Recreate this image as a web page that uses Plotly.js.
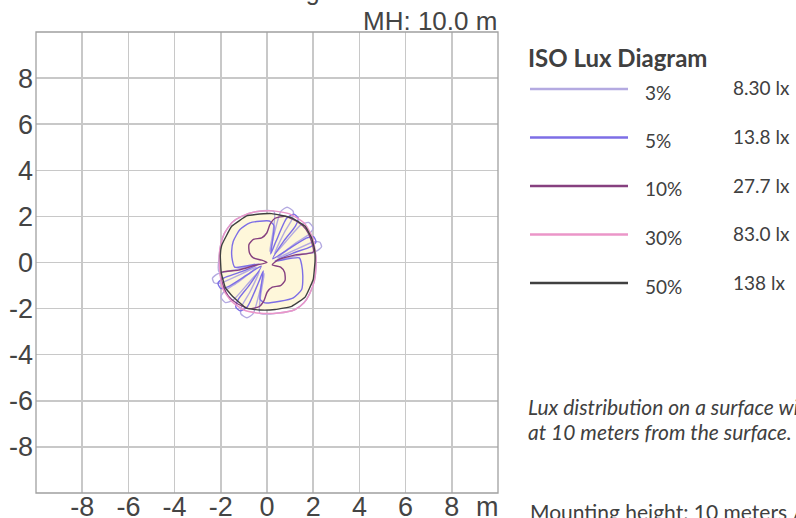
<!DOCTYPE html>
<html><head><meta charset="utf-8">
<script src="https://cdn.plot.ly/plotly-3.0.1.min.js"></script>
<style>html,body{margin:0;padding:0;background:#fff;overflow:hidden}</style>
</head><body><div id="chart" style="width:796px;height:518px"></div>
<script>
// ---- data ----
const levels = ['3%', '5%', '10%', '30%', '50%'];
const luxValues = ['8.30 lx', '13.8 lx', '27.7 lx', '83.0 lx', '138 lx'];
const lineColors = ['#b4aae1', '#7d6ee6', '#86407f', '#eb96c8', '#404040'];
const xTicks = [-8, -6, -4, -2, 0, 2, 4, 6, 8];
const yTicks = [-8, -6, -4, -2, 0, 2, 4, 6, 8];
const tickLabels = ['-8', '-6', '-4', '-2', '0', '2', '4', '6', '8'];

// isolux contours, [x, y] in metres
const c3 = [[2.08,0.40],[0.49,0.10],
  [1.46,0.34],[2.14,0.49],[2.36,0.68],[2.29,0.88],[2.01,0.89],[1.10,0.49],[0.46,0.20],
  [1.24,0.84],[1.82,1.23],[2.00,1.50],[1.80,1.74],[1.47,1.63],[0.80,0.89],[0.33,0.37],
  [0.75,1.30],[1.10,1.91],[1.13,2.23],[0.87,2.40],[0.60,2.22],[0.29,1.16],[0.12,0.49],[0.31,2.20],
  [-0.50,2.20],[-1.10,2.00],[-1.50,1.75],[-1.85,1.25],[-2.00,0.80],[-2.07,0.27],[-2.08,-0.40],[-0.49,-0.10],
  [-1.46,-0.34],[-2.14,-0.49],[-2.36,-0.68],[-2.29,-0.88],[-2.01,-0.89],[-1.10,-0.49],[-0.46,-0.20],
  [-1.24,-0.84],[-1.82,-1.23],[-2.00,-1.50],[-1.80,-1.74],[-1.47,-1.63],[-0.80,-0.89],[-0.33,-0.37],
  [-0.75,-1.30],[-1.10,-1.91],[-1.13,-2.23],[-0.87,-2.40],[-0.60,-2.22],[-0.29,-1.16],[-0.12,-0.49],[-0.31,-2.20],
  [0.50,-2.19],[1.20,-2.05],[1.60,-1.75],[1.85,-1.35],[2.05,-0.80],[2.12,-0.16],[2.08,0.40]];

const c5 = [[-0.09,-1.75],[0.56,-1.68],[1.14,-1.53],[1.50,-1.17],[1.55,-0.59],[1.50,-0.10],[1.40,0.20],[0.35,0.06],
  [1.13,0.41],[1.88,0.68],[2.12,0.90],[2.01,1.12],[1.70,1.06],[0.85,0.53],[0.25,0.16],
  [0.74,0.95],[1.23,1.58],[1.35,1.93],[1.16,2.10],[0.85,1.92],[0.39,0.92],[0.16,0.37],[0.25,1.00],[0.30,1.60],[0.10,1.80],
  [-0.74,1.72],[-1.17,1.43],[-1.46,0.92],[-1.53,0.49],[-1.50,0.10],[-1.40,-0.20],[-0.35,-0.06],
  [-1.13,-0.41],[-1.88,-0.68],[-2.12,-0.90],[-2.01,-1.12],[-1.70,-1.06],[-0.85,-0.53],[-0.25,-0.16],
  [-0.74,-0.95],[-1.23,-1.58],[-1.35,-1.93],[-1.16,-2.10],[-0.85,-1.92],[-0.39,-0.92],[-0.16,-0.37],[-0.25,-1.00],[-0.30,-1.60],[-0.09,-1.75]];

const c10 = [[0,0],[-0.23,0.10],[-0.59,0.20],[-0.76,0.42],[-0.78,0.78],[-0.59,1.00],[-0.23,1.07],[-0.01,1.28],[0.13,1.65],[0.35,1.92],
  [0.79,2.00],[1.30,1.78],[1.68,1.45],[1.90,1.00],[2.00,0.45],[1.23,0.33],[0.50,0.12],
  [0.23,-0.10],[0.59,-0.20],[0.76,-0.42],[0.78,-0.78],[0.59,-1.00],[0.23,-1.07],[0.01,-1.28],[-0.13,-1.65],[-0.35,-1.92],
  [-0.79,-2.00],[-1.30,-1.78],[-1.68,-1.45],[-1.90,-1.00],[-2.00,-0.45],[-1.23,-0.33],[-0.50,-0.12],[0,0]];

const c30 = [[2.12,-0.16],[2.10,0.42],[1.95,1.14],[1.60,1.72],[1.00,2.10],[0.27,2.24],[-0.50,2.20],[-1.10,2.00],[-1.50,1.75],
  [-1.85,1.25],[-2.00,0.80],[-2.07,0.27],[-2.02,-0.60],[-1.90,-1.17],[-1.55,-1.67],[-1.02,-2.05],[-0.30,-2.20],[0.50,-2.19],
  [1.20,-2.05],[1.60,-1.75],[1.85,-1.35],[2.05,-0.80],[2.12,-0.16]];

const c50 = [[2.08,0.06],[2.06,0.56],[1.93,1.07],[1.65,1.57],[1.07,1.94],[0.20,2.12],[-0.50,2.08],[-0.88,2.02],[-1.53,1.57],
  [-1.96,0.75],[-2.02,0.30],[-1.98,-0.45],[-1.80,-1.10],[-1.46,-1.50],[-0.90,-1.98],[-0.30,-2.06],[0.35,-2.04],[1.07,-1.90],
  [1.65,-1.50],[2.00,-0.74],[2.08,0.06]];

// ---- build ----
const contours = [c3, c5, c10, c30, c50];
const xy = p => ({x: p.map(q => q[0]), y: p.map(q => q[1])});
const PX = v => (v - 36) / 462;   // pixel -> paper (layout helper)
const PY = v => (493 - v) / 461;

const traces = [];
const fillD = xy(c50);
traces.push({type: 'scatter', mode: 'lines', x: fillD.x, y: fillD.y, fill: 'toself', fillcolor: '#fef7da',
  line: {width: 0, color: 'rgba(0,0,0,0)', shape: 'spline', smoothing: 0.3}, hoverinfo: 'skip', showlegend: false});
contours.forEach((c, i) => {
  const d = xy(c);
  traces.push({type: 'scatter', mode: 'lines', x: d.x, y: d.y, name: levels[i],
    line: {color: lineColors[i], width: 1.4, shape: 'spline', smoothing: i === 4 ? 0.3 : 0.6},
    hoverinfo: 'skip', showlegend: false});
});

const axisFont = {family: 'Liberation Sans, Arial, sans-serif', size: 27, color: '#444'};
const baseAxis = {range: [-10, 10], showgrid: true, gridcolor: '#c8c8c8', gridwidth: 1.5, zeroline: false,
  showline: false, ticks: '', tickfont: axisFont, fixedrange: true, anchor: 'free'};

const panelFont = {family: 'Lato, Carlito, sans-serif', size: 19, color: '#404040'};
const noteFont = {family: 'Lato, sans-serif', size: 21, color: '#404040'};
const annotations = [
  {text: 'ISO Lux Diagram', x: 0.5, y: PY(-9), xref: 'paper', yref: 'paper', xanchor: 'center', yanchor: 'middle',
   showarrow: false, font: {family: 'Liberation Sans, Arial, sans-serif', size: 25, color: '#444'}},
  {text: 'MH: 10.0 m', x: PX(499), y: PY(21), xref: 'paper', yref: 'paper', xanchor: 'right', yanchor: 'middle',
   showarrow: false, font: {family: 'Liberation Sans, Arial, sans-serif', size: 26, color: '#444'}},
  {text: 'm', x: PX(487), y: PY(507), xref: 'paper', yref: 'paper', xanchor: 'center', yanchor: 'middle',
   showarrow: false, font: axisFont},
  {text: '<b>ISO Lux Diagram</b>', x: PX(526), y: PY(57), xref: 'paper', yref: 'paper', xanchor: 'left', yanchor: 'middle',
   showarrow: false, font: {family: 'Lato, sans-serif', size: 24, color: '#404040'}},
  {text: '<i>Lux distribution on a surface with the fixture mounted</i>', x: PX(526), y: PY(406), xref: 'paper', yref: 'paper',
   xanchor: 'left', yanchor: 'middle', showarrow: false, font: noteFont},
  {text: '<i>at 10 meters from the surface.</i>', x: PX(526), y: PY(431), xref: 'paper', yref: 'paper',
   xanchor: 'left', yanchor: 'middle', showarrow: false, font: noteFont},
  {text: 'Mounting height: 10 meters / 32.8 feet', x: PX(528), y: PY(512), xref: 'paper', yref: 'paper',
   xanchor: 'left', yanchor: 'middle', showarrow: false, font: noteFont}
];
const shapes = [{type: 'rect', xref: 'paper', yref: 'paper', x0: 0, x1: 1, y0: 0, y1: 1,
  line: {color: '#a0a0a0', width: 1.3}, fillcolor: 'rgba(0,0,0,0)', layer: 'above'}];
levels.forEach((lv, i) => {
  const yl = 89 + i * 48.5;
  shapes.push({type: 'line', xref: 'paper', yref: 'paper', x0: PX(530), x1: PX(628), y0: PY(yl), y1: PY(yl),
    line: {color: lineColors[i], width: 2.6}});
  annotations.push({text: lv, x: PX(643), y: PY(yl + 3), xref: 'paper', yref: 'paper', xanchor: 'left', yanchor: 'middle',
    showarrow: false, font: panelFont});
  annotations.push({text: luxValues[i], x: PX(731), y: PY(yl - 1), xref: 'paper', yref: 'paper', xanchor: 'left', yanchor: 'middle',
    showarrow: false, font: panelFont});
});

const layout = {
  width: 796, height: 518, margin: {l: 36, r: 298, t: 32, b: 25},
  paper_bgcolor: '#ffffff', plot_bgcolor: '#ffffff', showlegend: false,
  xaxis: Object.assign({}, baseAxis, {tickvals: xTicks, ticktext: tickLabels, position: 5.5 / 461}),
  yaxis: Object.assign({}, baseAxis, {tickvals: yTicks, ticktext: tickLabels, position: 0, ticklabelstandoff: 3}),
  annotations: annotations, shapes: shapes
};
Plotly.newPlot('chart', traces, layout, {displayModeBar: false, staticPlot: true});
</script></body></html>
